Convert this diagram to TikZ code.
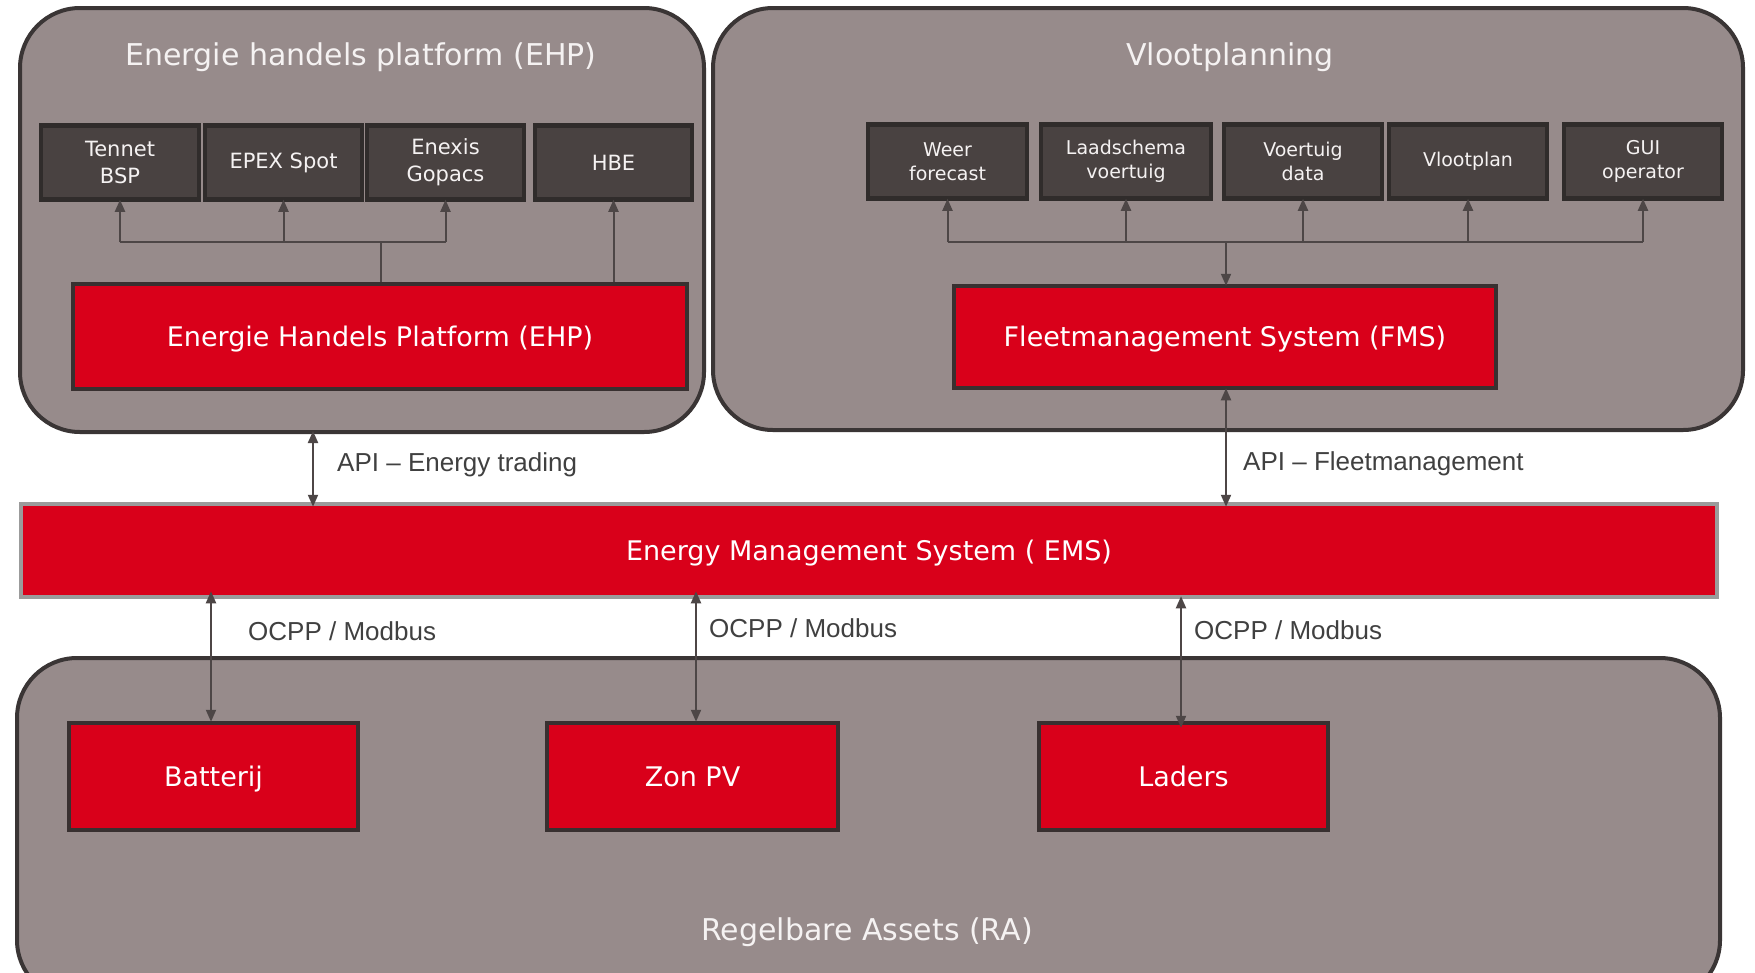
\documentclass[tikz,border=0pt]{standalone}
\usepackage{fontspec}
\usetikzlibrary{arrows.meta}
\newfontfamily\boxfont{DejaVu Sans}
\newfontfamily\linkfont{Liberation Sans}
\definecolor{grpfill}{RGB}{151,139,139}
\definecolor{grpline}{RGB}{58,53,53}
\definecolor{srcfill}{RGB}{73,66,65}
\definecolor{srcline}{RGB}{48,44,43}
\definecolor{sysred}{RGB}{217,0,26}
\definecolor{sysline}{RGB}{56,48,48}
\definecolor{emsline}{RGB}{155,155,155}
\definecolor{linkc}{RGB}{77,70,70}
\definecolor{labelc}{RGB}{64,64,64}
\definecolor{softwhite}{RGB}{245,242,242}
\tikzset{
  grp/.style={draw=grpline, fill=grpfill, line width=4pt, rounded corners=60pt,
    inner sep=0pt},
  grptitle/.style={text=softwhite, font=\boxfont\fontsize{30}{34}\selectfont},
  srcbox/.style={draw=srcline, fill=srcfill, line width=4.5pt, inner sep=0pt,
    text=softwhite, align=center, minimum height=74pt},
  srcleft/.style={srcbox, font=\boxfont\fontsize{21}{27}\selectfont},
  srcright/.style={srcbox, font=\boxfont\fontsize{19}{24.5}\selectfont},
  sysbox/.style={draw=sysline, fill=sysred, line width=4.5pt, inner sep=0pt,
    text=white, font=\boxfont\fontsize{27}{32}\selectfont,
    text height=25pt, text depth=5.4pt},
  link/.style={draw=linkc, line width=2pt},
  tip/.style={-{Triangle[length=12pt,width=10pt]}},
  bitip/.style={{Triangle[length=12pt,width=10pt]}-{Triangle[length=12pt,width=10pt]}},
  lbl/.style={text=labelc, anchor=west, inner sep=0pt,
    font=\linkfont\fontsize{26}{30}\selectfont}
}
\begin{document}
\begin{tikzpicture}[x=1pt,y=-1pt]
\useasboundingbox (0,0) rectangle (1755,972);
\clip (0,0) rectangle (1755,972);
\fill[white] (0,0) rectangle (1755,972);

% group frames
\node[grp, minimum width=684pt, minimum height=424pt] (ehpgrp) at (362,220) {};
\node[grp, minimum width=1030pt, minimum height=422pt] (fleetgrp) at (1228,219) {};
\node[grp, minimum width=1703pt, minimum height=342pt] (assetgrp) at (868.5,829) {};

% group titles
\node[grptitle] (ehptitle) at (361,57) {Energie handels platform (EHP)};
\node[grptitle] (fleettitle) at (1230,57) {Vlootplanning};
\node[grptitle] (assettitle) at (867,932) {Regelbare Assets (RA)};

% energy trading sources
\node[srcleft, minimum width=158pt] (tennet) at (120,162.5) {Tennet\\BSP};
\node[srcleft, minimum width=157pt] (epex) at (283.5,162.5) {EPEX Spot};
\node[srcleft, minimum width=157pt] (enexis) at (445.5,162.5) {Enexis\\Gopacs};
\node[srcleft, minimum width=157pt] (hbe) at (613.5,162.5) {HBE};

% fleet sources
\node[srcright, minimum width=159pt] (weer) at (947.5,161.5) {Weer\\forecast};
\node[srcright, minimum width=170pt] (laad) at (1126,161.5) {Laadschema\\voertuig};
\node[srcright, minimum width=158pt] (voertuig) at (1303,161.5) {Voertuig\\data};
\node[srcright, minimum width=158pt] (vloot) at (1468,161.5) {Vlootplan};
\node[srcright, minimum width=158pt] (gui) at (1643,161.5) {GUI\\operator};

% systems
\node[sysbox, minimum width=614pt, minimum height=105pt] (ehp) at (380,336.5)
  {Energie\ Handels\ Platform\ (EHP)};
\node[sysbox, minimum width=542pt, minimum height=102pt] (fms) at (1225,337)
  {Fleetmanagement\ System\ (FMS)};
\node[sysbox, draw=emsline, minimum width=1696pt, minimum height=93pt] (ems)
  at (869,550.5) {Energy Management System ( EMS)};

% assets
\node[sysbox, minimum width=289pt, minimum height=107pt] (bat) at (213.5,776.5) {Batterij};
\node[sysbox, minimum width=291pt, minimum height=107pt] (zon) at (692.5,776.5) {Zon PV};
\node[sysbox, minimum width=289pt, minimum height=107pt] (laders) at (1183.5,776.5) {Laders};

% trading bus
\coordinate (ehpbus) at (381,242);
\draw[link] (381,0 |- ehp.north) -- (ehpbus);
\draw[link] (tennet.south |- ehpbus) -- (enexis.south |- ehpbus);
\draw[link, tip] (tennet.south |- ehpbus) -- ([yshift=2pt]tennet.south);
\draw[link, tip] (epex.south |- ehpbus) -- ([yshift=2pt]epex.south);
\draw[link, tip] (enexis.south |- ehpbus) -- ([yshift=2pt]enexis.south);
\draw[link, tip] (hbe.south |- ehp.north) -- ([yshift=2pt]hbe.south);

% fleet bus
\coordinate (fleetbus) at (1226,242);
\draw[link] (weer.south |- fleetbus) -- (gui.south |- fleetbus);
\foreach \n in {weer,laad,voertuig,vloot,gui}
  \draw[link, tip] (\n.south |- fleetbus) -- ([yshift=2pt]\n.south);
\draw[link, tip] (fleetbus) -- ([yshift=-2pt]1226,0 |- fms.north);

% API links
\draw[link, bitip] ([yshift=3pt]313,0 |- ehpgrp.south) -- ([yshift=-5pt]313,0 |- ems.north);
\draw[link, bitip] ([yshift=2pt]1226,0 |- fms.south) -- ([yshift=-5pt]1226,0 |- ems.north);
\node[lbl] (apitrade) at (337,465) {API – Energy trading};
\node[lbl] (apifleet) at (1243,464) {API – Fleetmanagement};

% asset links
\draw[link, bitip] ([yshift=8pt]211,0 |- ems.south) -- ([yshift=-1pt]211,0 |- bat.north);
\draw[link, bitip] ([yshift=8pt]696,0 |- ems.south) -- ([yshift=-1pt]696,0 |- zon.north);
\draw[link, bitip] ([yshift=3pt]1181,0 |- ems.south) -- ([yshift=-7pt]1181,0 |- laders.north);
\node[lbl] (ocpp1) at (248,631) {OCPP / Modbus};
\node[lbl] (ocpp2) at (709,628) {OCPP / Modbus};
\node[lbl] (ocpp3) at (1194,630) {OCPP / Modbus};
\end{tikzpicture}
\end{document}
